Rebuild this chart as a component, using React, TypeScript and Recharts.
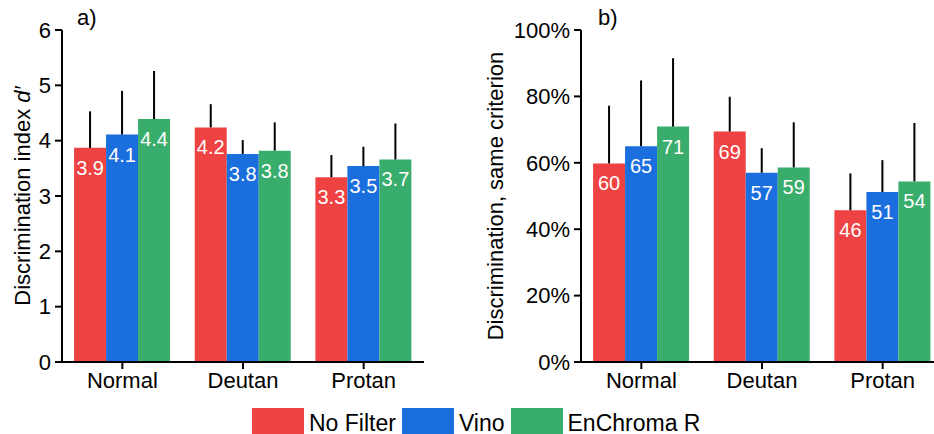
import React from 'react';
import { BarChart, Bar, XAxis, YAxis, ErrorBar, LabelList } from 'recharts';

const categories = ['Normal', 'Deutan', 'Protan'];
const seriesNames = ['No Filter', 'Vino', 'EnChroma R'];
const seriesColors = ['#ef4242', '#1b6ede', '#39ad6b'];

// panel a) discrimination index d'
const dNoFilter = [3.87, 4.24, 3.34];
const dVino = [4.11, 3.76, 3.54];
const dEnChroma = [4.39, 3.82, 3.66];
const dNoFilterErr = [0.66, 0.42, 0.4];
const dVinoErr = [0.79, 0.25, 0.35];
const dEnChromaErr = [0.87, 0.51, 0.65];
const dTicks = [0, 1, 2, 3, 4, 5, 6];

// panel b) discrimination, same criterion (%)
const pNoFilter = [59.8, 69.4, 45.7];
const pVino = [65.0, 57.0, 51.2];
const pEnChroma = [70.9, 58.6, 54.4];
const pNoFilterErr = [17.4, 10.5, 11.1];
const pVinoErr = [19.8, 7.4, 9.6];
const pEnChromaErr = [20.6, 13.6, 17.6];
const pTicks = [0, 20, 40, 60, 80, 100];

const FONT = '"Liberation Sans", Arial, sans-serif';

function buildRows(values: number[][], errors: number[][]) {
  return categories.map((name, i) => ({
    name,
    s0: values[0][i],
    s1: values[1][i],
    s2: values[2][i],
    e0: [0, errors[0][i]],
    e1: [0, errors[1][i]],
    e2: [0, errors[2][i]],
  }));
}

const dRows = buildRows([dNoFilter, dVino, dEnChroma], [dNoFilterErr, dVinoErr, dEnChromaErr]);
const pRows = buildRows([pNoFilter, pVino, pEnChroma], [pNoFilterErr, pVinoErr, pEnChromaErr]);

type PanelProps = {
  rows: any[];
  width: number;
  yAxisWidth: number;
  right: number;
  domain: [number, number];
  ticks: number[];
  tickFormat: (v: number) => string;
  labelFormat: (v: number) => string;
  title: React.ReactNode;
  titleX: number;
};

function Panel({ rows, width, yAxisWidth, right, domain, ticks, tickFormat, labelFormat, title, titleX }: PanelProps) {
  const barLabel = (props: any) => {
    const { x, y, width: w, value } = props;
    return (
      <text
        x={Number(x) + Number(w) / 2}
        y={Number(y) + 20}
        textAnchor="middle"
        dominantBaseline="central"
        fill="#fff"
        fontSize={20}
        fontFamily={FONT}
      >
        {labelFormat(Number(value))}
      </text>
    );
  };

  return (
    <BarChart
      width={width}
      height={400}
      data={rows}
      margin={{ top: 30, right, left: 0, bottom: 0 }}
      barCategoryGap="10%"
      barGap={0}
    >
      <XAxis
        dataKey="name"
        axisLine={{ stroke: '#000', strokeWidth: 2 }}
        tickLine={{ stroke: '#000', strokeWidth: 2 }}
        tickSize={7}
        tickMargin={3}
        height={38}
        tick={{ fill: '#000', fontSize: 22 }}
      />
      <YAxis
        width={yAxisWidth}
        domain={domain}
        ticks={ticks}
        interval={0}
        tickFormatter={tickFormat}
        axisLine={{ stroke: '#000', strokeWidth: 2 }}
        tickLine={{ stroke: '#000', strokeWidth: 2 }}
        tickSize={7}
        tickMargin={4}
        tick={{ fill: '#000', fontSize: 22 }}
        label={{
          content: (p: any) => {
            const vb = p.viewBox || { x: 0, y: 30, width: yAxisWidth, height: 332 };
            const cx = titleX;
            const cy = vb.y + vb.height / 2;
            return (
              <text
                x={cx}
                y={cy}
                transform={`rotate(-90, ${cx}, ${cy})`}
                textAnchor="middle"
                dominantBaseline="central"
                fill="#000"
                fontSize={22}
                fontFamily={FONT}
              >
                {title}
              </text>
            );
          },
        }}
      />
      {seriesNames.map((s, i) => (
        <Bar key={s} dataKey={`s${i}`} name={s} fill={seriesColors[i]} isAnimationActive={false}>
          <ErrorBar dataKey={`e${i}`} width={0} stroke="#000" strokeWidth={2} direction="y" />
          <LabelList dataKey={`s${i}`} content={barLabel} />
        </Bar>
      ))}
    </BarChart>
  );
}

export default function App() {
  return (
    <div
      style={{
        position: 'fixed',
        left: 0,
        top: 0,
        width: 934,
        height: 434,
        overflow: 'hidden',
        background: '#fff',
        fontFamily: FONT,
      }}
    >
      <div style={{ position: 'absolute', left: 0, top: 0 }}>
        <Panel
          rows={dRows}
          width={470}
          yAxisWidth={62}
          right={46}
          domain={[0, 6]}
          ticks={dTicks}
          tickFormat={(v) => String(v)}
          labelFormat={(v) => v.toFixed(1)}
          title={
            <>
              <tspan>Discrimination index </tspan>
              <tspan fontStyle="italic">d′</tspan>
            </>
          }
          titleX={22}
        />
      </div>
      <div style={{ position: 'absolute', left: 470, top: 0 }}>
        <Panel
          rows={pRows}
          width={480}
          yAxisWidth={111}
          right={7}
          domain={[0, 100]}
          ticks={pTicks}
          tickFormat={(v) => `${v}%`}
          labelFormat={(v) => v.toFixed(0)}
          title="Discrimination, same criterion"
          titleX={25}
        />
      </div>
      <div style={{ position: 'absolute', left: 77, top: 7, fontSize: 22, lineHeight: '22px' }}>a)</div>
      <div style={{ position: 'absolute', left: 598, top: 7, fontSize: 22, lineHeight: '22px' }}>b)</div>
      <div
        style={{
          position: 'absolute',
          left: 252,
          top: 408,
          height: 30,
          display: 'flex',
          alignItems: 'center',
          fontSize: 23,
        }}
      >
        {seriesNames.map((s, i) => (
          <div key={s} style={{ display: 'flex', alignItems: 'center', marginRight: 6 }}>
            <div style={{ width: 52, height: 30, background: seriesColors[i], marginRight: 5 }} />
            <span>{s}</span>
          </div>
        ))}
      </div>
    </div>
  );
}
